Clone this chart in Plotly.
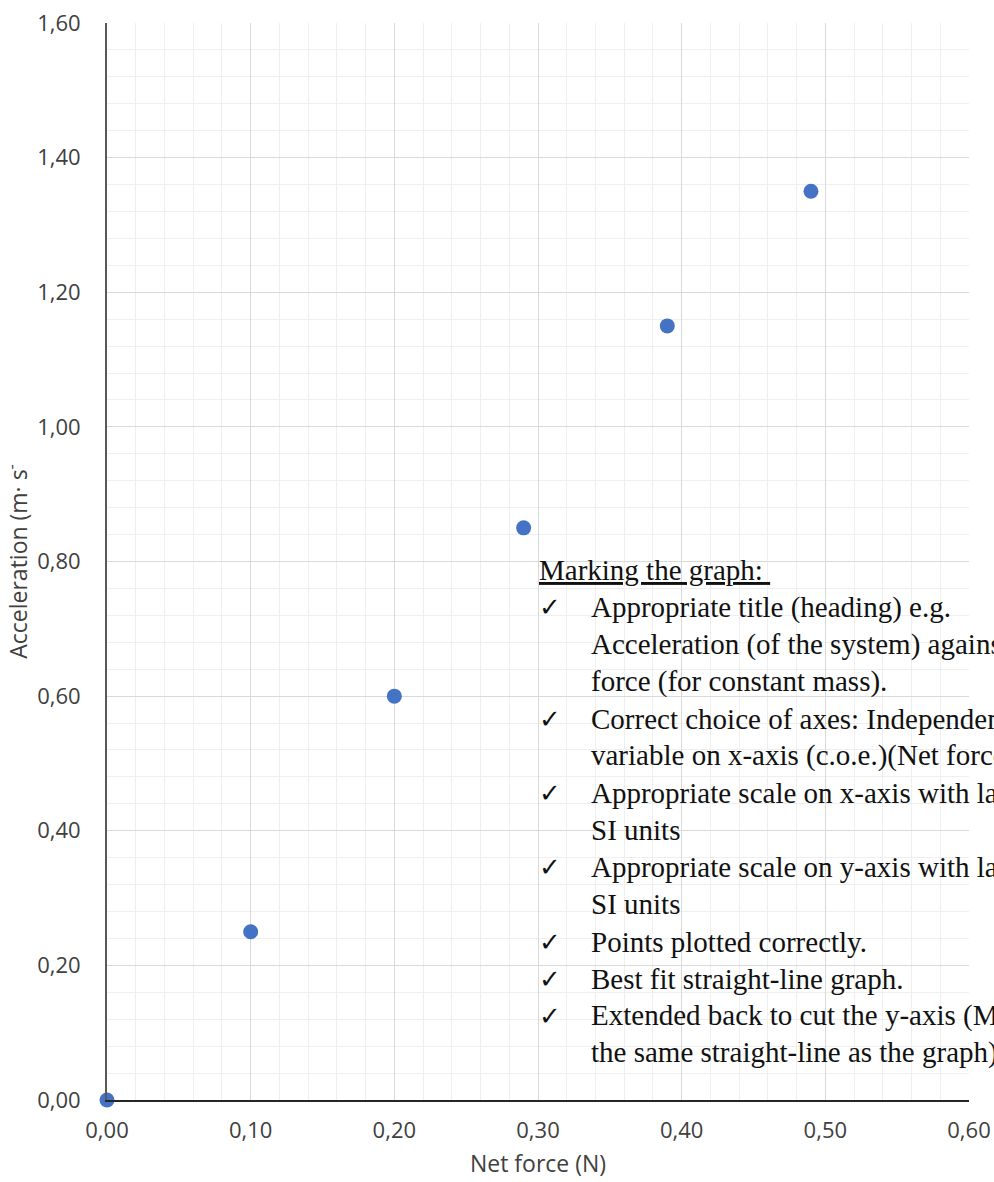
import plotly.graph_objects as go

# data
net_force = [0.00, 0.10, 0.20, 0.29, 0.39, 0.49]
acceleration = [0.00, 0.25, 0.60, 0.85, 1.15, 1.35]

x_ticks = [0.0, 0.1, 0.2, 0.3, 0.4, 0.5, 0.6]
y_ticks = [0.0, 0.2, 0.4, 0.6, 0.8, 1.0, 1.2, 1.4, 1.6]

notes_title = "Marking the graph: "
notes = [
    ("✓", "Appropriate title (heading) e.g."),
    ("", "Acceleration (of the system) against net"),
    ("", "force (for constant mass)."),
    ("✓", "Correct choice of axes: Independent"),
    ("", "variable on x-axis (c.o.e.)(Net force)"),
    ("✓", "Appropriate scale on x-axis with label and"),
    ("", "SI units"),
    ("✓", "Appropriate scale on y-axis with label and"),
    ("", "SI units"),
    ("✓", "Points plotted correctly."),
    ("✓", "Best fit straight-line graph."),
    ("✓", "Extended back to cut the y-axis (Must be"),
    ("", "the same straight-line as the graph)"),
]

W, H = 994, 1182
L, R, T, B = 107, 25, 23, 82


def px(x):
    return (x - L) / (W - L - R)


def py(y):
    return (H - B - y) / (H - T - B)


fig = go.Figure()
fig.add_trace(go.Scatter(
    x=net_force, y=acceleration, mode="markers",
    marker=dict(color="#4472C4", size=15),
    cliponaxis=False, showlegend=False))

serif = dict(family="Liberation Serif, Times New Roman, serif", size=29, color="#111111")
step = 37.15
y0 = 570
annotations = [dict(
    text="<u>" + notes_title + "</u>", x=px(537), y=py(y0), xref="paper", yref="paper",
    xanchor="left", yanchor="middle", showarrow=False, font=serif)]
for i, (mark, line) in enumerate(notes):
    yy = py(y0 + (i + 1) * step)
    if mark:
        annotations.append(dict(
            text=mark, x=px(537), y=yy, xref="paper", yref="paper",
            xanchor="left", yanchor="middle", showarrow=False,
            font=dict(family="DejaVu Sans", size=26, color="#111111")))
    annotations.append(dict(
        text=line, x=px(589), y=yy, xref="paper", yref="paper",
        xanchor="left", yanchor="middle", showarrow=False, font=serif))

fig.update_layout(
    width=W, height=H,
    margin=dict(l=L, r=R, t=T, b=B),
    plot_bgcolor="white", paper_bgcolor="white",
    separators=", ",
    font=dict(family="Open Sans, sans-serif", color="#404040"),
    annotations=annotations,
)

fig.update_xaxes(
    range=[0, 0.6], tickvals=x_ticks, tickformat=".2f", automargin=False,
    tickfont=dict(size=22), ticklabelstandoff=10,
    showgrid=True, gridcolor="#d9d9d9", gridwidth=1,
    minor=dict(dtick=0.02, showgrid=True, gridcolor="#efefef", gridwidth=1),
    showline=True, linecolor="#262626", linewidth=2, zeroline=False,
    title=dict(text="Net force (N)", font=dict(size=23), standoff=12),
)
fig.update_yaxes(
    range=[0, 1.6], tickvals=y_ticks, tickformat=".2f", automargin=False,
    tickfont=dict(size=22), ticklabelstandoff=20,
    showgrid=True, gridcolor="#d9d9d9", gridwidth=1,
    minor=dict(dtick=0.04, showgrid=True, gridcolor="#efefef", gridwidth=1),
    showline=True, linecolor="#595959", linewidth=2, zeroline=False,
    title=dict(text="Acceleration (m· s<sup>-</sup>", font=dict(size=23), standoff=8),
)

fig.write_html("out.html", config={"displayModeBar": False},
               post_script="document.body.style.margin = '0';")
